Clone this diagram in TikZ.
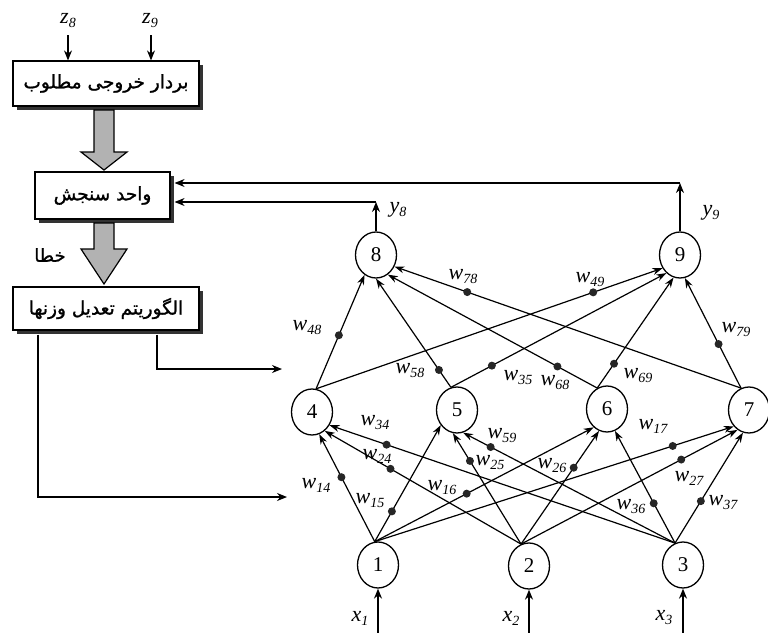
\documentclass[tikz,border=0pt]{standalone}
\usepackage{fontspec}
\setmainfont{Liberation Serif}
\newfontfamily\fa[Script=Arabic,FakeBold=1.2]{DejaVu Sans}
\TeXXeTstate=1
\usetikzlibrary{arrows.meta,calc,shapes.geometric,shadows}
\newcommand{\lab}[2]{{\fontsize{22}{22}\selectfont\itshape #1\raisebox{-4pt}{\fontsize{14}{14}\selectfont #2}}}
\begin{document}
\begin{tikzpicture}[x=1pt,y=-1pt,
  neuron/.style={draw,ellipse,line width=1.3pt,minimum width=41pt,minimum height=46pt,inner sep=0pt,font=\fontsize{21}{21}\selectfont},
  edge/.style={line width=1.2pt,-{Stealth[length=10pt,width=7pt]}},
  arr/.style={line width=1.2pt,-{Stealth[length=10pt,width=8pt]}},
  wdot/.style={fill=black!85},
  box/.style={draw,line width=1.2pt,fill=white,inner sep=0pt,font=\fa\fontsize{18.5}{18.5}\selectfont,
     drop shadow={shadow xshift=4pt,shadow yshift=-4pt,fill=black!80,opacity=1}},
  fat/.style={draw,line width=1.2pt,fill=black!30},
  wl/.style={inner sep=0pt}]
\useasboundingbox (0,0) rectangle (768,632);
% boxes
\node[box,minimum width=186pt,minimum height=45pt] (b1) at (106,83.5) {\beginR بردار خروجی مطلوب\endR};
\node[box,minimum width=135pt,minimum height=47pt] (b2) at (102.5,195.5) {\beginR واحد سنجش\endR};
\node[box,minimum width=186pt,minimum height=43pt] (b3) at (106,308.5) {\beginR الگوریتم تعدیل وزنها\endR};
\node[wl,font=\fa\fontsize{18}{18}\selectfont] (err) at (50,255) {\beginR خطا\endR};
% fat arrows
\path[fat] (94,110)--(94,152)--(81,152)--(104,170)--(127,152)--(114,152)--(114,110)--cycle;
\path[fat] (94,223)--(94,249)--(81,249)--(104,284)--(127,249)--(114,249)--(114,223)--cycle;
% z inputs
\node[wl] (z8) at (68,21) {\lab{z}{8}};
\node[wl] (z9) at (150,21) {\lab{z}{9}};
\coordinate (cz8) at (68,35);
\coordinate (cz9) at (151,35);
\draw[arr] (cz8) -- (b1.north -| cz8);
\draw[arr] (cz9) -- (b1.north -| cz9);
% neurons
\node[neuron] (n1) at (378,565) {1};
\node[neuron] (n2) at (529,566) {2};
\node[neuron] (n3) at (683,565) {3};
\node[neuron] (n4) at (312,412) {4};
\node[neuron] (n5) at (457,410) {5};
\node[neuron] (n6) at (607,409) {6};
\node[neuron] (n7) at (749,410) {7};
\node[neuron] (n8) at (376,255) {8};
\node[neuron] (n9) at (680,255) {9};
% edges with weight dots
\foreach \s/\sa/\t/\ta/\f in {
  n4/80/n8/-120/0.47, n4/80/n9/-143/0.80,
  n5/105/n8/-90/0.16, n5/105/n9/-127/0.19,
  n6/115/n8/-59/0.19, n6/115/n9/-106/0.22,
  n7/110/n8/-32/0.79, n7/110/n9/-78/0.40,
  n1/98/n4/-72/0.60, n1/98/n5/-137/0.26, n1/98/n6/-126/0.42, n1/98/n7/-133/0.83,
  n2/110/n4/-56/0.665, n2/110/n5/-100/0.75, n2/110/n6/-110/0.675, n2/110/n7/-120/0.74,
  n3/110/n4/-37/0.835, n3/110/n5/-75/0.87, n3/110/n6/-70/0.355, n3/110/n7/-105/0.38}
{
  \draw[edge] (\s.\sa) -- (\t.\ta);
  \fill[wdot] ($(\s.\sa)!\f!(\t.\ta)$) circle (4);
}
% outputs and feedback
\coordinate (c8) at (376,202);
\coordinate (c9) at (680,183);
\draw[arr] (n8) -- (c8);
\draw[arr] (n9) -- (c9);
\draw[arr] (c8) -- ($(b2.east |- c8)+(4,0)$);
\draw[arr] (c9) -- ($(b2.east |- c9)+(4,0)$);
\node[wl] (y8) at (398,210) {\lab{y}{8}};
\node[wl] (y9) at (711,213) {\lab{y}{9}};
% algorithm outputs
\coordinate (d1) at (157,369);
\coordinate (d2) at (38,497);
\draw[arr] ($(b3.south -| d1)+(0,4)$) -- (d1) -- (282,369);
\draw[arr] ($(b3.south -| d2)+(0,4)$) -- (d2) -- (287,497);
% inputs
\coordinate (i1) at (378,634);
\coordinate (i2) at (529,634);
\coordinate (i3) at (683,634);
\draw[arr] (i1) -- (n1);
\draw[arr] (i2) -- (n2);
\draw[arr] (i3) -- (n3);
\node[wl] (x1) at (360,618) {\lab{x}{1}};
\node[wl] (x2) at (511,618) {\lab{x}{2}};
\node[wl] (x3) at (664,618) {\lab{x}{3}};
% weight labels
\node[wl] (l48) at (307,328) {\lab{w}{48}};
\node[wl] (l78) at (463,277) {\lab{w}{78}};
\node[wl] (l49) at (590,280) {\lab{w}{49}};
\node[wl] (l79) at (736,330) {\lab{w}{79}};
\node[wl] (l58) at (410,371) {\lab{w}{58}};
\node[wl] (l35) at (518,378) {\lab{w}{35}};
\node[wl] (l68) at (555,383) {\lab{w}{68}};
\node[wl] (l69) at (638,376) {\lab{w}{69}};
\node[wl] (l34) at (375,423) {\lab{w}{34}};
\node[wl] (l24) at (377,456) {\lab{w}{24}};
\node[wl] (l59) at (502,436) {\lab{w}{59}};
\node[wl] (l25) at (490,463) {\lab{w}{25}};
\node[wl] (l14) at (316,485) {\lab{w}{14}};
\node[wl] (l15) at (370,501) {\lab{w}{15}};
\node[wl] (l16) at (442,488) {\lab{w}{16}};
\node[wl] (l26) at (552,466) {\lab{w}{26}};
\node[wl] (l17) at (653,426) {\lab{w}{17}};
\node[wl] (l27) at (689,478) {\lab{w}{27}};
\node[wl] (l36) at (631,507) {\lab{w}{36}};
\node[wl] (l37) at (723,503) {\lab{w}{37}};
\end{tikzpicture}
\end{document}
